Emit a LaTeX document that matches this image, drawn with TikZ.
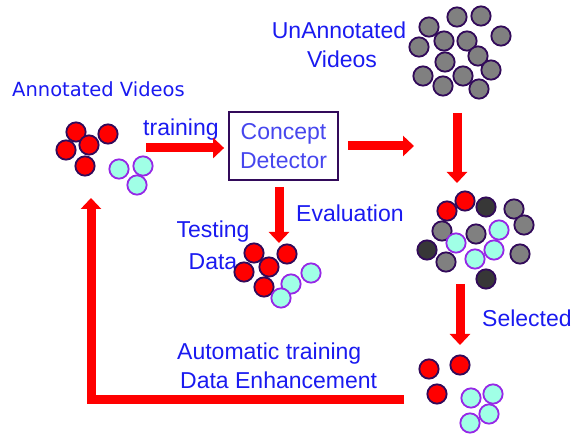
\documentclass[tikz,border=0pt]{standalone}
\usepackage{fontspec}
\setmainfont{Liberation Sans}
\newfontfamily\vidfont{DejaVu Sans}
\usepackage{xcolor}
\usepackage{tikz}
\usetikzlibrary{arrows.meta}

\definecolor{labelblue}{RGB}{26,26,240}
\definecolor{detblue}{RGB}{70,70,238}
\definecolor{boxrim}{RGB}{50,10,90}
\definecolor{ballrim}{RGB}{50,10,90}
\definecolor{cyanrim}{RGB}{150,40,230}
\definecolor{cyanfill}{RGB}{160,255,230}
\definecolor{greyfill}{RGB}{128,128,128}
\definecolor{darkfill}{RGB}{55,55,55}

\begin{document}
\begin{tikzpicture}[x=1pt,y=-1pt,
  lbl/.style={text=labelblue,inner sep=0pt,font=\fontsize{23}{29}\selectfont},
  ball/.style={circle,minimum size=19.3pt,inner sep=0pt,line width=1.8pt},
  redball/.style={ball,draw=ballrim,fill=red},
  cyanball/.style={ball,draw=cyanrim,fill=cyanfill},
  greyball/.style={ball,draw=ballrim,fill=greyfill},
  darkball/.style={ball,draw=ballrim,fill=darkfill},
  detector/.style={draw=boxrim,line width=1.8pt,fill=white,minimum width=109pt,
                   minimum height=68pt,align=center,text=detblue,
                   font=\fontsize{23}{29}\selectfont},
  bigarr/.style={-{Triangle[width=20pt,length=11pt]},line width=9pt,draw=red}
]
\useasboundingbox (0,0) rectangle (573,435);

% labels
\node[lbl,anchor=base west,font=\vidfont\fontsize{19.5}{24}\selectfont] (annlbl) at (12,97) {Annotated Videos};
\node[lbl,anchor=base west] (trlbl) at (143,136) {training};
\node[lbl,align=center] (unlbl) at (339,45) {UnAnnotated\\\hspace*{6pt}Videos};
\node[lbl,anchor=base west] (evlbl) at (296,222) {Evaluation};
\node[lbl,align=center,font=\fontsize{23}{32}\selectfont] (tslbl) at (213,245) {Testing\\Data};
\node[lbl,anchor=base west] (sellbl) at (482,327) {Selected};
\node[lbl,align=left,anchor=north west] (autolbl) at (177,342.5) {Automatic training\\\hspace*{3pt}Data Enhancement};

% concept detector
\node[detector] (det) at (283.5,146) {Concept\\Detector};

% annotated videos
\foreach \p [count=\i] in {(76,132),(108,134),(66,150),(85,166),(89,145)}
  \node[redball] (ar\i) at \p {};
\foreach \p [count=\i] in {(119,169),(143,166),(137,185)}
  \node[cyanball] (ac\i) at \p {};

% testing data
\foreach \p [count=\i] in {(254,253),(287,254),(244,272),(264,287),(269,267)}
  \node[redball] (tr\i) at \p {};
\foreach \p [count=\i] in {(311,273),(291,284),(281,298)}
  \node[cyanball] (tc\i) at \p {};

% unannotated videos
\foreach \p [count=\i] in {(429,27),(457,17),(481,16),(501,36),(419,47),(444,41),(467,41),
                          (445,62),(478,56),(491,70),(423,76),(463,76),(443,86),(479,89)}
  \node[greyball] (ug\i) at \p {};

% mixed pool
\foreach \p [count=\i] in {(514,209),(524,225),(442,231),(476,234),(446,262),(520,254)}
  \node[greyball] (mg\i) at \p {};
\foreach \p [count=\i] in {(486,207),(427,250),(486,279)}
  \node[darkball] (md\i) at \p {};
\foreach \p [count=\i] in {(447,211),(465,201)}
  \node[redball] (mr\i) at \p {};
\foreach \p [count=\i] in {(456,243),(499,230),(494,250),(475,259)}
  \node[cyanball] (mc\i) at \p {};

% selected
\foreach \p [count=\i] in {(429,369),(460,365),(437,394)}
  \node[redball] (sr\i) at \p {};
\foreach \p [count=\i] in {(471,398),(493,394),(489,414),(470,423)}
  \node[cyanball] (sc\i) at \p {};

% arrow ends
\coordinate (trS) at (146,148);
\coordinate (outE) at (414,146);
\coordinate (evE) at (279,243);
\coordinate (unS) at (457,113);
\coordinate (unE) at (457,183);
\coordinate (selS) at (460,284);
\coordinate (selE) at (460,345);
\coordinate (fbS) at (404,400);
\coordinate (fbE) at (91,198);

\draw[bigarr,shorten >=4pt] (trS) -- (trS -| det.west);
\draw[bigarr,shorten <=9pt] (det.east) -- (outE);
\draw[bigarr,shorten <=6pt] (det.south -| evE) -- (evE);
\draw[bigarr] (unS) -- (unE);
\draw[bigarr] (selS) -- (selE);
\draw[bigarr] (fbS) -| (fbE);
\end{tikzpicture}
\end{document}
